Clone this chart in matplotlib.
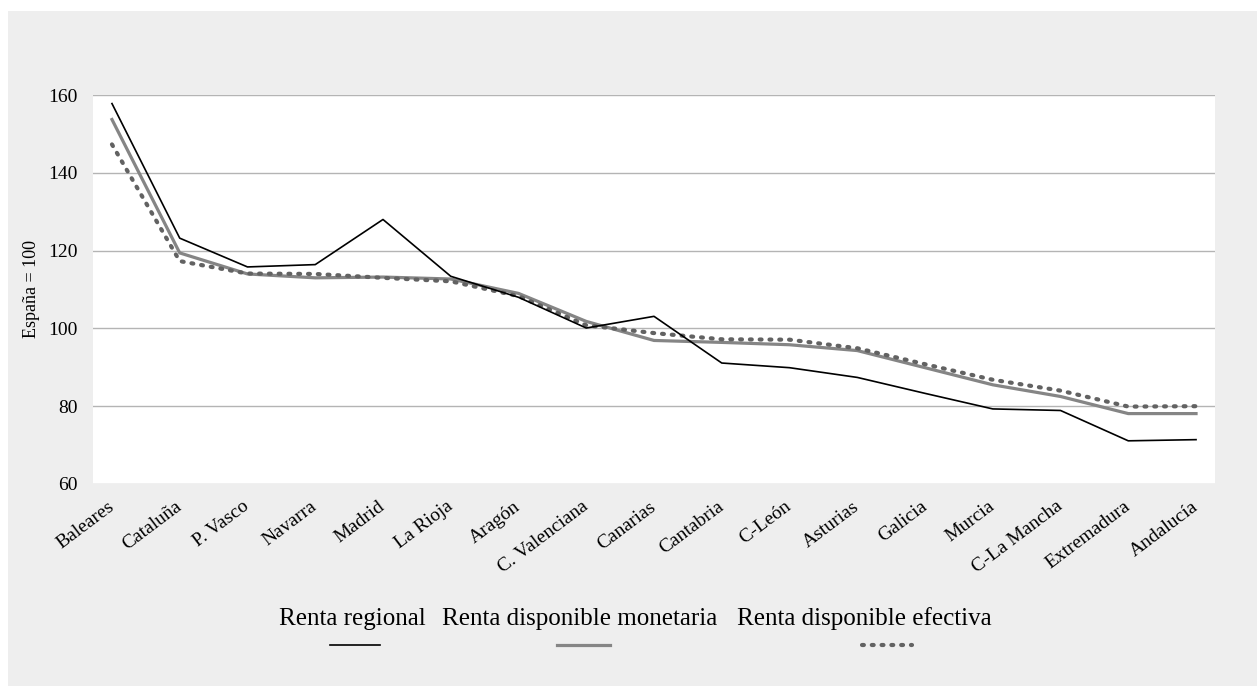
import matplotlib.pyplot as plt
from matplotlib.lines import Line2D
from matplotlib.patches import Rectangle

plt.rcParams["font.family"] = ["Liberation Serif", "DejaVu Serif"]

regiones = ["Baleares", "Cataluña", "P. Vasco", "Navarra", "Madrid", "La Rioja",
            "Aragón", "C. Valenciana", "Canarias", "Cantabria", "C-León", "Asturias",
            "Galicia", "Murcia", "C-La Mancha", "Extremadura", "Andalucía"]

renta_regional = [157.8, 123.2, 115.8, 116.4, 128.0, 113.4, 108.0, 100.1, 103.1,
                  91.1, 89.9, 87.4, 83.3, 79.3, 78.9, 71.1, 71.4]
renta_monetaria = [153.7, 119.4, 114.0, 113.0, 113.2, 112.7, 109.0, 101.8, 96.9,
                   96.4, 95.8, 94.3, 89.9, 85.5, 82.5, 78.1, 78.1]
renta_efectiva = [147.3, 117.3, 114.1, 114.0, 113.0, 112.1, 108.3, 100.8, 98.8,
                  97.2, 97.1, 94.9, 90.8, 86.8, 84.0, 79.9, 80.0]

y_ticks = [60, 80, 100, 120, 140, 160]
series_names = ["Renta regional", "Renta disponible monetaria", "Renta disponible efectiva"]

W, H = 1257, 686
fig = plt.figure(figsize=(W / 100, H / 100), dpi=100, facecolor="white")
fig.patches.append(Rectangle((8 / W, 0), 1 - 8 / W, 1 - 11 / H, transform=fig.transFigure,
                             facecolor="#eeeeee", edgecolor="none", zorder=-1))

ax = fig.add_axes([93 / W, 1 - 484 / H, (1215 - 93) / W, (484 - 95) / H])
ax.set_facecolor("white")

x = range(len(regiones))
styles = [
    dict(color="black", lw=1.2),
    dict(color="#858585", lw=2.3),
    dict(color="#626262", lw=3.0, linestyle=(0, (0.45, 1.9)), dash_capstyle="round"),
]
ax.plot(x, renta_monetaria, **styles[1], zorder=2)
ax.plot(x, renta_efectiva, **styles[2], zorder=3)
ax.plot(x, renta_regional, **styles[0], zorder=4)

ax.set_xlim(-0.28, len(regiones) - 1 + 0.28)
ax.set_ylim(60, 160)
ax.set_yticks(y_ticks)
ax.set_xticks(list(x))
ax.set_xticklabels(regiones, rotation=37, ha="right", va="center", rotation_mode="anchor")
ax.tick_params(axis="x", length=0, pad=15, labelsize=14)
ax.tick_params(axis="y", length=0, pad=11, labelsize=14)
ax.grid(axis="y", color="#b4b4b4", lw=1.0, zorder=0)
for s in ax.spines.values():
    s.set_visible(False)
ax.set_ylabel("España = 100", fontsize=13)
ax.yaxis.set_label_coords(-53 / (1215 - 93), 0.5)

# leyenda: texto arriba, muestra de línea debajo
text_x = [279, 442, 737]
line_x = [(330, 380), (557, 610), (862, 912)]
for name, tx, (x0, x1), st in zip(series_names, text_x, line_x, styles):
    fig.text(tx / W, 1 - 625 / H, name, fontsize=18, ha="left", va="baseline")
    fig.add_artist(Line2D([x0 / W, x1 / W], [1 - 645 / H] * 2, transform=fig.transFigure, **st))

fig.savefig("out.png", dpi=100)
